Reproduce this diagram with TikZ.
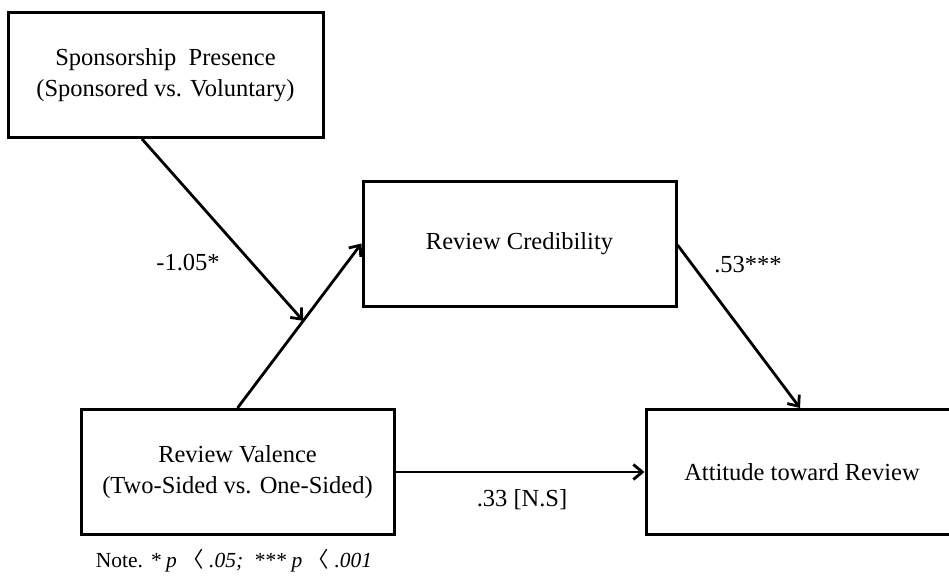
\documentclass[tikz,border=0pt]{standalone}
\usepackage{fontspec}
\setmainfont{Liberation Serif}
\newfontfamily\cjk{Noto Sans CJK KR}
\usetikzlibrary{arrows.meta}

\begin{document}
\begin{tikzpicture}[x=1pt, y=-1pt,
    varbox/.style={rectangle, draw, line width=3pt, minimum width=313, minimum height=125,
                   align=center, font=\fontsize{24.5}{31}\selectfont},
    pathline/.style={line width=2.8pt, -{Straight Barb[length=9pt, width=15pt]}},
    coef/.style={font=\fontsize{24.5}{28}\selectfont}]

    \useasboundingbox (0,0) rectangle (949,575);

    % variables ↓
    \node [varbox, minimum width=315] (spons) at (165.5,75) {Sponsorship\ \ Presence\\(Sponsored vs. Voluntary)};
    \node [varbox] (cred) at (519.5,243.5) {Review Credibility};
    \node [varbox] (val) at (237.5,472) {Review Valence\\(Two-Sided vs. One-Sided)};
    \node [varbox, minimum width=312] (att) at (802,472) {Attitude toward Review};

    % paths ↓
    \draw [pathline] (val.north) -- (cred.west) coordinate[pos=0.53] (moder);
    \draw [pathline] ([xshift=-23.5pt]spons.south) -- (moder);
    \draw [pathline] ([yshift=-1.5pt]cred.east) -- ([xshift=-2pt]att.north);
    \draw [pathline] (val.east) -- (att.west);

    % coefficients ↓
    \node [coef] (c1) at (188,263) {-1.05*};
    \node [coef] (c2) at (748,265) {.53***};
    \node [coef] (c3) at (522,500) {.33 [N.S]};

    \node [font=\fontsize{21.5}{24}\selectfont] (note) at (234,561)
        {Note. \textit{* p} {\cjk 〈} \textit{.05; \ *** p} {\cjk 〈} \textit{.001}};

\end{tikzpicture}
\end{document}
